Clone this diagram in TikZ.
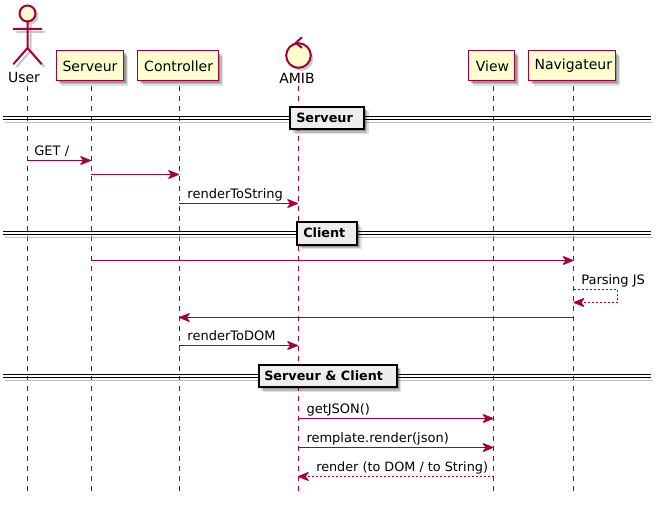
\documentclass[tikz,border=0pt]{standalone}
\usepackage{fontspec}
\setmainfont{DejaVu Sans}
\usetikzlibrary{arrows.meta,calc}
\definecolor{pumlred}{HTML}{A80036}
\definecolor{pumlfill}{HTML}{FEFECE}
\definecolor{pumlgrey}{HTML}{EEEEEE}
\tikzset{
  softshadow/.style={
    preaction={draw=none,fill=black,opacity=.12,transform canvas={xshift=3.6pt,yshift=-3.6pt}},
    preaction={draw=none,fill=black,opacity=.16,transform canvas={xshift=2.6pt,yshift=-2.6pt}},
    preaction={draw=none,fill=black,opacity=.2,transform canvas={xshift=1.6pt,yshift=-1.6pt}}},
  partbox/.style={draw=pumlred,fill=pumlfill,line width=.75pt,minimum height=22.5pt,inner sep=0pt,softshadow},
  parttext/.style={font=\fontsize{10.5pt}{12pt}\selectfont,text=black},
  plainlabel/.style={font=\fontsize{9.75pt}{11pt}\selectfont,text=black,inner sep=0pt,anchor=base west},
  lifeline/.style={draw=pumlred,line width=.75pt,dash pattern=on 3.75pt off 3.75pt},
  msg/.style={draw=pumlred,line width=.75pt,-{Stealth[length=9.5pt,width=7.5pt,inset=3pt,round]}},
  ret/.style={draw=pumlred,line width=.75pt,dash pattern=on 1.5pt off 1.5pt,-{Stealth[length=9.5pt,width=7.5pt,inset=3pt,round]}},
  divbox/.style={draw=black,fill=pumlgrey,line width=1.5pt,minimum height=17pt,inner sep=0pt,softshadow},
  divtext/.style={font=\bfseries\fontsize{9.6pt}{11pt}\selectfont,text=black,inner sep=0pt,anchor=base west},
  divline/.style={draw=black,line width=.75pt},
  divshade/.style={draw=black!25,line width=1.2pt},
  actorline/.style={draw=pumlred,line width=1.5pt},
}
\begin{document}
\begin{tikzpicture}[x=.75pt,y=-.75pt]
\useasboundingbox[fill=white] (0,0) rectangle (662,505);

% lifeline tops and bottoms
\foreach \nm/\xx in {User/27.5,Serv/91,Ctrl/179,Amib/298,View/493.5,Navi/573.5}{
  \coordinate (top\nm) at (\xx,86);
  \coordinate (bot\nm) at (\xx,492);
  \draw[lifeline] (top\nm) -- (bot\nm);
}

% rows
\foreach \rn/\yy in {r1/160.5,r2/174.5,r3/203.5,r4/260.5,r5/317.5,r6/345.5,r7/418.5,r8/447.5,r9/476.5,sa/289.5,sb/302.5}{
  \coordinate (\rn) at (0,\yy);
}
\coordinate (sx) at (617,0);

% participants
\node[partbox,minimum width=50.25pt] (serveur) at (90,66) {};
\node[parttext] at (serveur.center) {Serveur};
\node[partbox,minimum width=60.4pt] (controller) at (178,66) {};
\node[parttext] at (controller.center) {\hspace{1pt}Controller};
\node[partbox,minimum width=34.5pt] (view) at (491.5,66) {};
\node[parttext] at (view.center) {\hspace{1.5pt}View};
\node[partbox,minimum width=64.9pt] (navigateur) at (572,66) {};
\node[parttext] at (navigateur.center) {\hspace{2pt}Navigateur};

% actor
\begin{scope}[shift={(3,3)},draw=black!22,line width=1.5pt]
  \draw (27.5,21) -- (27.5,48) (13.5,29) -- (41.5,29) (13.5,64) -- (27.5,48) -- (41.5,64);
\end{scope}
\fill[black!20] (30.5,16.3) circle (8);
\draw[actorline,fill=pumlfill] (27.5,13.5) circle (8);
\draw[actorline,line cap=round] (27.5,21.5) -- (27.5,48) (13.5,29) -- (41.5,29) (13.5,64) -- (27.5,48) -- (41.5,64);
\node[parttext,inner sep=0pt] (user) at (24,78) {User};

% control
\fill[black!20] (301,58.5) circle (12.3);
\draw[actorline,fill=pumlfill] (298.5,55.5) circle (12.3);
\draw[actorline,line cap=round,line join=round] (301.7,37.5) -- (295.8,42.8) -- (301.7,47.7);
\node[parttext,inner sep=0pt] (amib) at (297,78) {AMIB};

% dividers
\foreach \dn/\ya/\yb in {a/116.8/119.6,b/231.8/234.6,c/374.8/377.6}{
  \coordinate (dl\dn) at (3,\ya); \coordinate (dr\dn) at (651,\ya);
  \coordinate (el\dn) at (3,\yb); \coordinate (er\dn) at (651,\yb);
  \draw[divshade] ($(el\dn)+(2,3)$) -- ($(er\dn)+(2,3)$);
  \draw[divline] (dl\dn) -- (dr\dn);
  \draw[divline] (el\dn) -- (er\dn);
}
\node[divbox,minimum width=55.5pt] (d1) at (326.8,118) {};
\node[divtext] (d1t) at (296,122.5) {Serveur};
\node[divbox,minimum width=45pt] (d2) at (327,233.3) {};
\node[divtext] (d2t) at (303,237.8) {Client};
\node[divbox,minimum width=103.5pt] (d3) at (327.5,376) {};
\node[divtext] (d3t) at (264,380.5) {Serveur \& Client};

% messages
\draw[msg] (topUser |- r1) -- node[pos=0,plainlabel,xshift=4.8pt,yshift=4pt] (l1) {GET /} (topServ |- r1);
\draw[msg] (topServ |- r2) -- (topCtrl |- r2);
\draw[msg] (topCtrl |- r3) -- node[pos=0,plainlabel,xshift=6pt,yshift=4pt] (l3) {renderToString} (topAmib |- r3);
\draw[msg] (topServ |- r4) -- (topNavi |- r4);
\draw[draw=pumlred,line width=.75pt,dash pattern=on 1.5pt off 1.5pt] (topNavi |- sa) -- (sx |- sa) -- (sx |- sb) -- (topNavi |- sb);
\draw[ret] ($(topNavi |- sb)+(8,0)$) -- (topNavi |- sb);
\node[plainlabel] (l5) at (581,285) {Parsing JS};
\draw[msg] (topNavi |- r5) -- (topCtrl |- r5);
\draw[msg] (topCtrl |- r6) -- node[pos=0,plainlabel,xshift=6pt,yshift=3.7pt] (l6) {renderToDOM} (topAmib |- r6);
\draw[msg] (topAmib |- r7) -- node[pos=0,plainlabel,xshift=6pt,yshift=4pt] (l7) {getJSON()} (topView |- r7);
\draw[msg] (topAmib |- r8) -- node[pos=0,plainlabel,xshift=6pt,yshift=4pt] (l8) {remplate.render(json)} (topView |- r8);
\draw[ret] (topView |- r9) -- (topAmib |- r9);
\node[plainlabel,font=\fontsize{9.6pt}{11pt}\selectfont] (l9) at (316,472) {render (to DOM / to String)};
\end{tikzpicture}
\end{document}
